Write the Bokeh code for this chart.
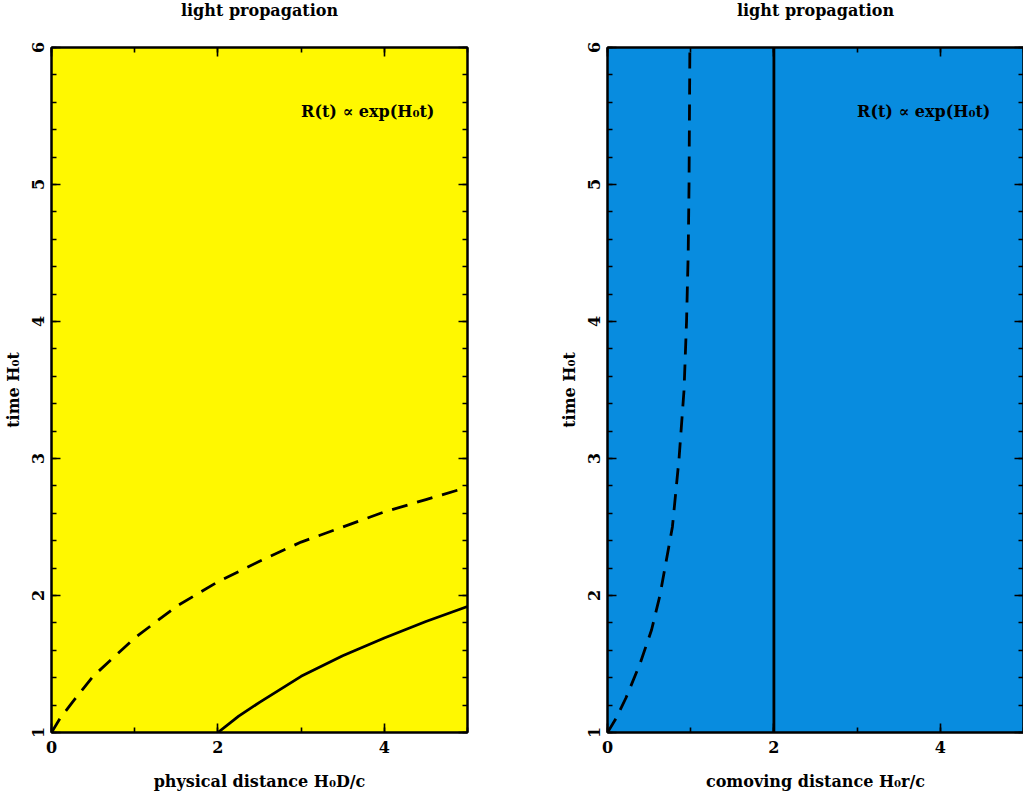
from bokeh.plotting import figure
from bokeh.models import Range1d, SingleIntervalTicker, LinearAxis, Label, Title
from bokeh.layouts import row
from bokeh.embed import file_html
from bokeh.resources import INLINE

# ---- data ----
left_dash_D = [0.0, 0.1, 0.25, 0.5, 1.0, 1.5, 2.0, 2.5, 3.0, 3.5, 4.0, 4.5, 5.0]
left_dash_t = [1.00, 1.10, 1.22, 1.41, 1.69, 1.92, 2.10, 2.25, 2.39, 2.50, 2.61, 2.70, 2.79]
left_solid_D = [2.0, 2.25, 2.5, 3.0, 3.5, 4.0, 4.5, 5.0]
left_solid_t = [1.00, 1.12, 1.22, 1.41, 1.56, 1.69, 1.81, 1.92]
right_dash_r = [0.0, 0.10, 0.22, 0.39, 0.53, 0.63, 0.78, 0.86, 0.92, 0.95, 0.97, 0.98, 0.99]
right_dash_t = [1.0, 1.1, 1.25, 1.5, 1.75, 2.0, 2.5, 3.0, 3.5, 4.0, 4.5, 5.0, 6.0]
right_solid_r = [2.0, 2.0]
right_solid_t = [1.0, 6.0]

title_text = "light propagation"
ylabel_text = "time H₀t"
xlabel_left = "physical distance H₀D/c"
xlabel_right = "comoving distance H₀r/c"
annot_text = "R(t) ∝ exp(H₀t)"

FONT = "DejaVu Serif"
YELLOW = "#FFF800"
BLUE = "#088CDF"


def style_axis(ax, show_labels=True):
    ax.axis_line_width = 2
    ax.axis_line_color = "black"
    ax.major_tick_in = 9
    ax.major_tick_out = 0
    ax.minor_tick_in = 5
    ax.minor_tick_out = 0
    ax.major_tick_line_width = 1.6
    ax.minor_tick_line_width = 1.6
    ax.major_tick_line_color = "black"
    ax.minor_tick_line_color = "black"
    ax.major_label_text_font = FONT
    ax.major_label_text_font_style = "bold"
    ax.axis_label_text_font = FONT
    ax.axis_label_text_font_style = "bold"
    ax.axis_label_text_font_size = "16px"
    ax.axis_label_text_color = "black"
    if show_labels:
        ax.major_label_text_color = "black"
        ax.major_label_text_font_size = "16px"
        ax.major_label_standoff = 8
    else:
        ax.major_label_text_color = None
        ax.major_label_text_font_size = "0px"
        ax.major_label_standoff = 0
        ax.axis_label_standoff = 0


def make_panel(xlabel, bg, min_right):
    p = figure(frame_width=416, frame_height=685,
               x_range=Range1d(0, 5), y_range=Range1d(1, 6),
               output_backend="svg", toolbar_location=None,
               title=None,
               min_border_left=50, min_border_right=min_right,
               min_border_top=47, min_border_bottom=62,
               background_fill_color=bg, border_fill_color="white",
               x_axis_label=xlabel, y_axis_label=ylabel_text)
    p.grid.visible = False
    p.outline_line_color = "black"
    p.outline_line_width = 2

    p.xaxis.ticker = SingleIntervalTicker(interval=2, num_minor_ticks=2)
    p.yaxis.ticker = SingleIntervalTicker(interval=1, num_minor_ticks=5)
    style_axis(p.xaxis[0])
    style_axis(p.yaxis[0])
    p.yaxis.major_label_orientation = "vertical"
    p.xaxis.axis_label_standoff = 16
    p.yaxis.axis_label_standoff = 6

    top = LinearAxis(ticker=SingleIntervalTicker(interval=2, num_minor_ticks=2))
    style_axis(top, show_labels=False)
    p.add_layout(top, "above")
    right = LinearAxis(ticker=SingleIntervalTicker(interval=1, num_minor_ticks=5))
    style_axis(right, show_labels=False)
    p.add_layout(right, "right")

    # invisible spacer between the frame and the title
    spacer = LinearAxis(ticker=SingleIntervalTicker(interval=2, num_minor_ticks=0))
    style_axis(spacer, show_labels=False)
    spacer.axis_line_color = None
    spacer.major_tick_line_color = None
    spacer.minor_tick_line_color = None
    spacer.major_tick_in = 0
    spacer.major_tick_out = 26
    p.add_layout(spacer, "above")

    p.add_layout(Title(text=title_text, align="center", vertical_align="top",
                       text_font=FONT, text_font_style="bold",
                       text_font_size="16px", text_color="black", standoff=0),
                 "above")

    p.add_layout(Label(x=3.0, y=5.53, text=annot_text, text_font=FONT,
                       text_font_style="bold", text_font_size="16px",
                       text_baseline="middle", text_align="left",
                       text_color="black"))
    return p


p1 = make_panel(xlabel_left, YELLOW, 89)
p1.line(left_dash_D, left_dash_t, line_color="black", line_width=2.8, line_dash="16 10")
p1.line(left_solid_D, left_solid_t, line_color="black", line_width=2.8)

p2 = make_panel(xlabel_right, BLUE, 2)
p2.line(right_dash_r, right_dash_t, line_color="black", line_width=2.8, line_dash="16 10")
p2.line(right_solid_r, right_solid_t, line_color="black", line_width=2.8)

layout = row(p1, p2)
open("out.html", "w").write(file_html(layout, INLINE))
